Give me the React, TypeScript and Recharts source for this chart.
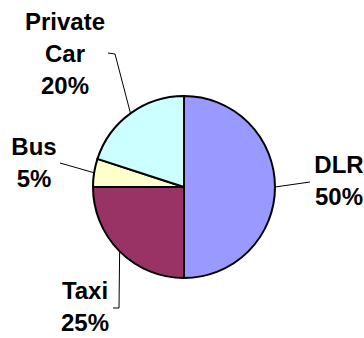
import { PieChart, Pie, Cell } from "recharts";

const categories = ["DLR", "Taxi", "Bus", "Private Car"];
const shares = [50, 25, 5, 20];
const sliceColors = ["#9999ff", "#993366", "#ffffcc", "#ccffff"];

// label block placement relative to pie centre: [text centre x, first baseline y]
const labelSpots: [number, number][] = [
  [155, -14],
  [-99, 112],
  [-150, -32],
  [-119, -157],
];
// leader line bends, relative to pie centre (starts at slice edge)
const leaderBends: [number, number][][] = [
  [[126, -5]],
  [[-65, 121], [-71, 121]],
  [[-124, -24]],
  [[-69, -133], [-76, -134]],
];

const data = categories.map((name, i) => ({ name, value: shares[i] }));

const RAD = Math.PI / 180;
const LINE_H = 32;

const renderLabel = (props: any) => {
  const { cx, cy, midAngle, outerRadius, index, name, value } = props;
  const ex = cx + outerRadius * Math.cos(-midAngle * RAD);
  const ey = cy + outerRadius * Math.sin(-midAngle * RAD);
  const pts = [[ex, ey], ...leaderBends[index].map(([dx, dy]) => [cx + dx, cy + dy])];
  const [lx, ly] = labelSpots[index];
  const lines = [...String(name).split(" "), `${value}%`];
  return (
    <g>
      <polyline points={pts.map((p) => p.join(",")).join(" ")} fill="none" stroke="#000" strokeWidth={1} />
      <text
        x={cx + lx}
        y={cy + ly}
        textAnchor="middle"
        fill="#000"
        fontFamily="'Liberation Sans', Arial, sans-serif"
        fontWeight="bold"
        fontSize={24}
      >
        {lines.map((t, i) => (
          <tspan key={i} x={cx + lx} dy={i === 0 ? 0 : LINE_H}>
            {t}
          </tspan>
        ))}
      </text>
    </g>
  );
};

export default function App() {
  return (
    <div style={{ position: "absolute", left: 0, top: 0, background: "#fff" }}>
      <PieChart width={364} height={338} margin={{ top: 0, right: 0, bottom: 0, left: 0 }}>
        <Pie
          data={data}
          dataKey="value"
          nameKey="name"
          cx={184}
          cy={187}
          outerRadius={91}
          startAngle={90}
          endAngle={-270}
          stroke="#000"
          strokeWidth={2}
          label={renderLabel}
          labelLine={false}
          isAnimationActive={false}
        >
          {data.map((d, i) => (
            <Cell key={d.name} fill={sliceColors[i]} />
          ))}
        </Pie>
      </PieChart>
    </div>
  );
}
